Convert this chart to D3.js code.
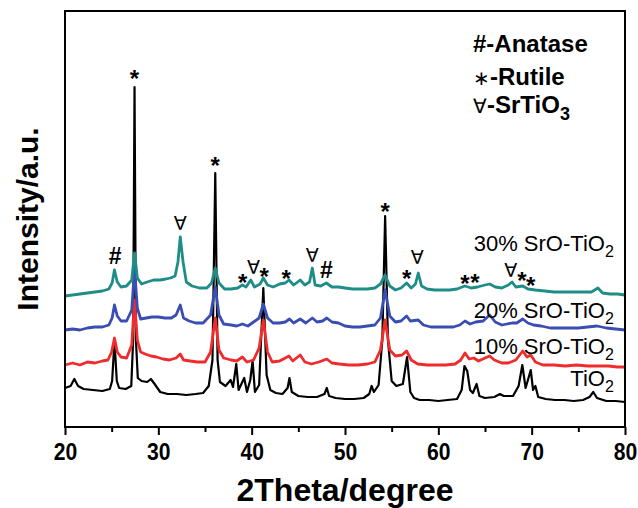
<!DOCTYPE html>
<html>
<head>
<meta charset="utf-8">
<script src="https://cdn.jsdelivr.net/npm/d3@7"></script>
<style>
  body { margin: 0; background: #fff; }
  svg { display: block; }
  .tick-lab { font-family: "Liberation Sans Narrow", "Arial Narrow", "Liberation Sans", Arial, sans-serif; font-weight: bold; font-size: 24px; }
  .title { font-family: "Liberation Sans", Arial, sans-serif; font-weight: bold; }
  .lab { font-family: "Liberation Sans", Arial, sans-serif; font-size: 22px; fill: #000; }
  .mark { font-family: "Liberation Sans", "DejaVu Sans", Arial, sans-serif; fill: #000; }
</style>
</head>
<body>
<svg width="638" height="508"></svg>
<script>
// XRD patterns, [2theta, intensity a.u.]
var tio2 = [[20.0,39],[20.6,41],[21.0,48],[21.4,41],[22.0,38],[23.0,37],[24.0,36],[24.8,38],[25.05,46],[25.3,86],[25.55,46],[25.8,39],
  [26.5,38],[27.1,41],[27.3,87],[27.45,340],[27.6,87],[27.8,49],[28.2,46],[28.8,45],[29.2,48],[29.6,43],[30.2,35],[31.0,33],[32.0,33],
  [33.0,32],[34.0,33],[34.8,34],[35.4,41],[35.8,67],[36.1,254],[36.35,67],[36.6,45],[37.2,41],[37.75,47],[38.0,40],[38.35,63],[38.6,37],
  [39.2,49],[39.5,35],[39.85,47],[40.1,66],[40.35,35],[40.8,42],[41.25,139],[41.6,52],[42.0,37],[42.6,34],[43.3,33],[43.85,39],[44.05,49],
  [44.3,35],[45.0,31],[46.0,30],[47.0,30],[47.8,33],[48.05,39],[48.3,31],[49.0,29],[50.0,28],[51.0,28],[52.0,29],[52.6,33],[52.85,41],
  [53.1,35],[53.6,42],[54.0,87],[54.3,211],[54.6,87],[55.0,46],[55.5,41],[56.2,43],[56.65,70],[57.0,35],[57.4,29],[58.0,27],[59.0,27],
  [60.0,26],[61.0,27],[62.0,28],[62.5,37],[62.8,61],[63.1,56],[63.4,37],[63.7,34],[64.1,43],[64.4,31],[65.0,29],[66.0,30],[66.6,33],
  [67.0,31],[68.0,31],[68.6,41],[69.0,62],[69.35,39],[69.6,47],[69.9,57],[70.15,37],[70.4,41],[70.7,30],[71.5,28],[72.5,27],[73.5,27],
  [74.5,26],[75.5,27],[76.2,30],[76.6,35],[77.0,29],[78.0,26],[79.0,26],[80.0,25]];

var sr10 = [[20.0,62],[20.8,64],[21.6,62],[22.4,65],[23.2,64],[24.0,66],[24.6,67],[25.0,75],[25.3,89],[25.6,75],[26.0,70],[26.6,69],
  [27.15,82],[27.45,127],[27.75,87],[28.1,75],[28.6,73],[29.2,71],[29.8,70],[30.5,68],[31.2,67],[31.9,69],[32.35,73],[32.7,67],[33.4,66],
  [34.2,65],[35.0,65],[35.6,75],[36.1,109],[36.5,77],[37.0,69],[37.8,67],[38.4,66],[39.0,70],[39.5,65],[40.2,67],[40.8,79],[41.25,107],
  [41.7,75],[42.2,65],[43.0,66],[43.6,69],[44.0,71],[44.4,66],[45.2,72],[45.7,65],[46.4,63],[47.2,65],[48.05,68],[48.6,64],[49.4,63],
  [50.4,62],[51.4,62],[52.4,63],[53.2,65],[53.8,77],[54.3,107],[54.8,77],[55.4,71],[56.1,72],[56.6,76],[57.1,67],[57.8,63],[58.8,62],
  [59.8,62],[60.8,62],[61.8,63],[62.4,67],[62.86,74],[63.3,68],[63.8,69],[64.3,66],[65.0,69],[65.5,71],[66.0,67],[66.8,64],[67.5,64],
  [68.3,67],[69.04,76],[69.5,70],[69.9,72],[70.4,65],[71.2,62],[72.4,62],[73.6,61],[74.8,62],[76.0,61],[77.0,61],[78.2,61],[79.2,60],[80.0,60]];

var sr20 = [[20.0,97],[20.8,98],[21.6,97],[22.4,99],[23.2,100],[24.0,100],[24.7,102],[25.05,109],[25.3,122],[25.6,111],[26.0,106],[26.6,106],
  [27.15,117],[27.45,159],[27.75,119],[28.1,108],[28.7,109],[29.3,110],[30.0,110],[30.7,109],[31.4,109],[31.9,112],[32.35,122],[32.7,109],
  [33.3,106],[34.0,104],[34.8,104],[35.6,112],[36.1,140],[36.5,112],[37.0,103],[37.8,102],[38.4,101],[39.0,103],[39.6,101],[40.2,105],
  [40.8,109],[41.25,123],[41.7,109],[42.3,104],[43.0,104],[43.6,105],[44.05,108],[44.5,104],[45.2,108],[45.8,104],[46.5,109],[47.0,105],
  [47.6,106],[48.05,109],[48.6,105],[49.3,104],[50.0,101],[50.8,100],[51.6,100],[52.4,101],[53.2,102],[53.8,109],[54.3,137],[54.8,111],
  [55.4,105],[56.0,106],[56.6,111],[57.0,106],[57.85,107],[58.4,102],[59.2,100],[60.0,100],[60.8,100],[61.6,100],[62.3,102],[62.86,106],
  [63.4,103],[64.0,105],[64.8,106],[65.5,112],[66.1,105],[66.8,102],[67.9,104],[68.4,104],[69.04,108],[69.6,104],[70.2,102],[71.0,101],
  [72.0,99],[73.0,99],[74.0,99],[75.0,99],[76.0,100],[77.0,101],[78.0,99],[79.0,98],[80.0,97]];

var sr30 = [[20.0,131],[20.8,132],[21.6,133],[22.4,134],[23.2,135],[24.0,136],[24.7,138],[25.05,144],[25.3,157],[25.6,145],[26.0,140],
  [26.6,141],[27.15,147],[27.45,174],[27.75,149],[28.2,143],[28.8,145],[29.5,147],[30.2,147],[30.8,148],[31.3,149],[31.8,151],[32.1,165],
  [32.35,190],[32.65,165],[33.0,145],[33.6,141],[34.4,139],[35.2,139],[35.7,144],[36.1,159],[36.5,144],[37.1,138],[37.8,138],[38.5,139],
  [39.0,142],[39.4,140],[39.9,147],[40.3,140],[40.9,143],[41.25,149],[41.7,142],[42.3,140],[43.0,143],[43.6,144],[44.0,147],[44.5,142],
  [45.2,147],[45.7,142],[46.2,145],[46.5,159],[46.8,142],[47.4,141],[48.0,144],[48.6,140],[49.3,140],[50.0,139],[50.8,138],[51.6,138],
  [52.4,138],[53.2,139],[53.8,143],[54.3,152],[54.8,141],[55.4,137],[56.0,139],[56.6,144],[57.1,139],[57.55,143],[57.85,154],[58.2,141],
  [58.8,138],[59.6,137],[60.4,137],[61.2,137],[62.0,138],[62.86,141],[63.5,139],[64.2,140],[65.0,142],[65.5,143],[66.1,140],[66.8,139],
  [67.5,142],[67.9,145],[68.3,140],[69.04,141],[69.6,138],[70.4,137],[71.4,136],[72.4,135],[73.4,135],[74.4,135],[75.4,135],[76.4,135],
  [77.1,139],[77.6,134],[78.4,133],[79.2,133],[80.0,132]];

var seriesNames = ["TiO2", "10% SrO-TiO2", "20% SrO-TiO2", "30% SrO-TiO2"];
var seriesColors = ["#000000", "#ef2b2b", "#3a4db3", "#1f8d87"];
// label anchor per series: [2theta at right end, intensity at baseline]
var labelPos = [[78.8, 41], [78.8, 73], [78.8, 109], [78.8, 176]];

// phase marks: [symbol, 2theta, intensity at centre]
var marks = [["#",25.36,171],["*",27.45,354],["\u2200",32.35,204],["*",36.1,267],["*",39.04,150],["\u2200",40.2,160],
  ["*",41.35,156],["*",43.7,154],["\u2200",46.5,172],["#",48.0,157],["*",54.3,221],["*",56.6,154],["\u2200",57.75,170],
  ["*",62.86,149],["*",63.93,150],["\u2200",67.75,157],["*",68.95,152],["*",69.9,147]];

var legendRows = [["#", "-Anatase", ""], ["\u2217", "-Rutile", ""], ["\u2200", "-SrTiO", "3"]];
var xTicks = [20, 30, 40, 50, 60, 70, 80];

var svg = d3.select("svg"),
    margin = {top: 11, right: 13, bottom: 81, left: 65},
    width = 638 - margin.left - margin.right,
    height = 508 - margin.top - margin.bottom,
    g = svg.append("g").attr("transform", "translate(" + margin.left + "," + margin.top + ")");

var x = d3.scaleLinear().domain([20, 80]).range([0, width]),
    y = d3.scaleLinear().domain([0, 416]).range([height, 0]);

var line = d3.line()
    .x(function(d) { return x(d[0]); })
    .y(function(d) { return y(d[1]); });

var data = [tio2, sr10, sr20, sr30];

g.selectAll(".trace")
    .data(data)
    .enter().append("path")
    .attr("class", "trace")
    .attr("d", line)
    .attr("fill", "none")
    .attr("stroke", function(d, i) { return seriesColors[i]; })
    .attr("stroke-width", function(d, i) { return i == 0 ? 2.2 : 2.8; })
    .attr("stroke-linejoin", "round");

// minor ticks
g.append("g")
    .attr("transform", "translate(0," + height + ")")
    .call(d3.axisBottom(x).tickValues(d3.range(25, 80, 10)).tickSize(5).tickFormat(""))
    .call(function(a) { a.select(".domain").remove(); a.selectAll("line").attr("stroke-width", 2); });

var xAxis = g.append("g")
    .attr("transform", "translate(0," + height + ")")
    .call(d3.axisBottom(x).tickValues(xTicks).tickSize(8).tickPadding(8).tickFormat(d3.format("d")));
xAxis.select(".domain").remove();
xAxis.selectAll("line").attr("stroke-width", 2);
xAxis.selectAll("text")
    .attr("class", "tick-lab")
    .attr("fill", "#000")
    .attr("transform", "scale(0.88,1)");

// frame
g.append("rect")
    .attr("width", width)
    .attr("height", height)
    .attr("fill", "none")
    .attr("stroke", "#000")
    .attr("stroke-width", 2);

// phase marks
g.selectAll(".mark")
    .data(marks)
    .enter().append("text")
    .attr("class", "mark")
    .attr("text-anchor", "middle")
    .attr("x", function(d) { return x(d[1]); })
    .attr("y", function(d) { return y(d[2]); })
    .style("font-size", function(d) { return d[0] == "*" ? "24px" : (d[0] == "#" ? "23px" : "19px"); })
    .style("font-weight", function(d) { return d[0] == "\u2200" ? "normal" : "bold"; })
    .attr("dy", function(d) { return d[0] == "*" ? "0.6em" : "0.36em"; })
    .text(function(d) { return d[0]; });

// series labels
seriesNames.forEach(function(name, i) {
  var t = g.append("text")
      .attr("class", "lab")
      .attr("text-anchor", "end")
      .attr("x", x(labelPos[i][0]))
      .attr("y", y(labelPos[i][1]));
  t.append("tspan").text(name.slice(0, -1));
  t.append("tspan").attr("font-size", 16).attr("dy", 6).text(name.slice(-1));
});

// legend
legendRows.forEach(function(r, i) {
  var t = g.append("text")
      .attr("class", "title")
      .attr("font-size", 24)
      .attr("x", 408)
      .attr("y", [41, 74, 102][i]);
  t.append("tspan")
      .style("font-weight", i == 0 ? "bold" : "normal")
      .style("font-size", i == 0 ? "24px" : "20px")
      .text(r[0]);
  t.append("tspan").text(r[1]);
  if (r[2]) t.append("tspan").attr("font-size", 18).attr("dy", 7).text(r[2]);
});

// axis titles
svg.append("text")
    .attr("class", "title")
    .attr("font-size", 32)
    .attr("text-anchor", "middle")
    .attr("x", margin.left + width / 2)
    .attr("y", 501)
    .text("2Theta/degree");

svg.append("text")
    .attr("class", "title")
    .attr("font-size", 30)
    .attr("text-anchor", "middle")
    .attr("transform", "translate(38,219) rotate(-90)")
    .text("Intensity/a.u.");
</script>
</body>
</html>
